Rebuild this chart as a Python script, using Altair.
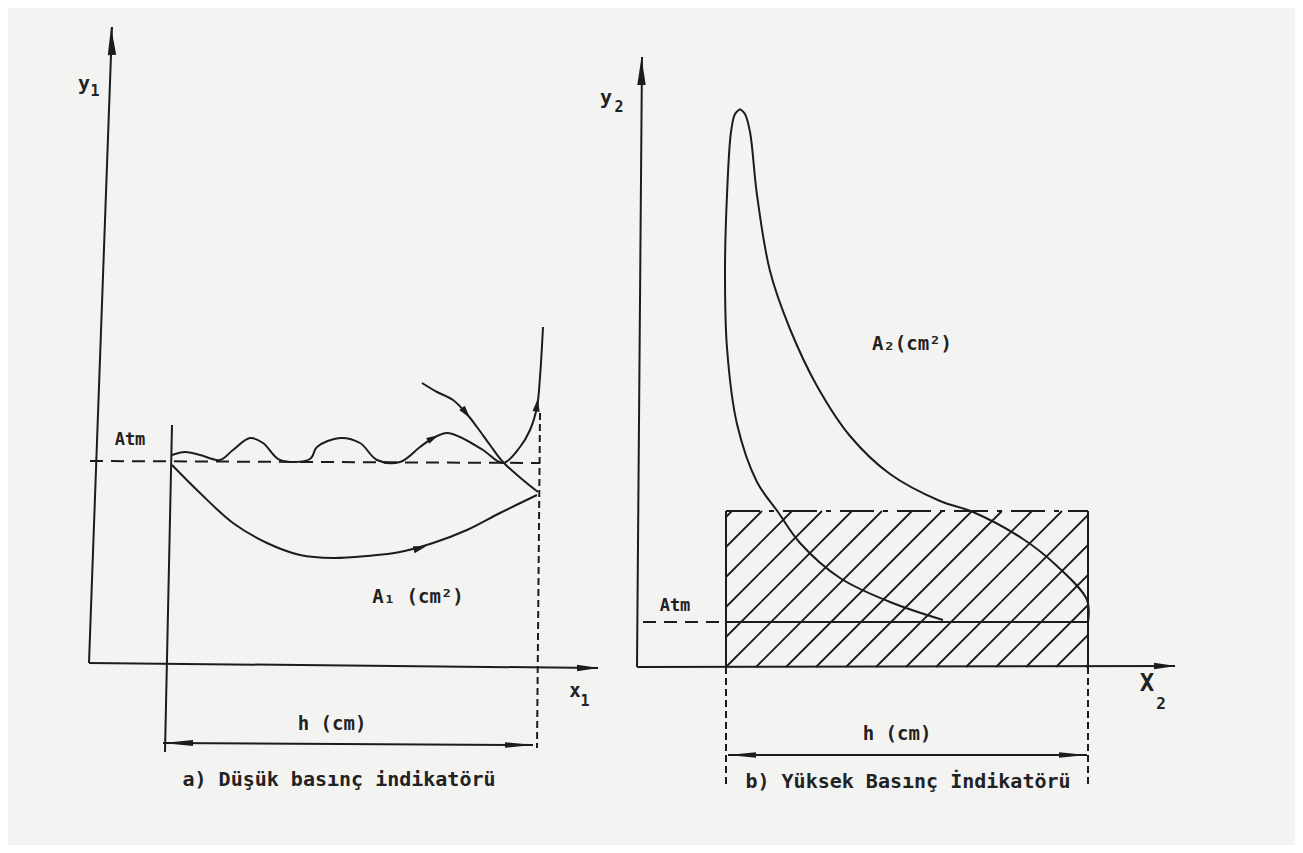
import altair as alt
import pandas as pd
import numpy as np

# ---------------- data (page pixel coordinates) ----------------
# Left panel (a) low pressure indicator
Y1_AXIS_X = [112, 89]
Y1_AXIS_Y = [27, 663]
X1_AXIS_X = [89, 598]
X1_AXIS_Y = [663, 668]
H1_LEFT_X = [172, 165]
H1_LEFT_Y = [425, 752]
H1_RIGHT_X = [540, 537]
H1_RIGHT_Y = [413, 748]
ATM1_X = [90, 540]
ATM1_Y = [461, 463]
H1_ARROW_X = [163, 533]
H1_ARROW_Y = [743, 745]

WAVE_X = [172, 185, 200, 220, 233, 250, 263, 280, 310, 317, 340, 360, 377, 400, 420, 433, 447, 460, 483, 503,
          520, 530, 537, 540, 543]
WAVE_Y = [455, 452, 455, 460, 450, 438, 443, 460, 459, 447, 438, 443, 460, 462, 447, 438, 433, 437, 450, 463,
          447, 430, 407, 377, 327]
EXH1_X = [422, 437, 453, 466, 477, 490, 503, 523, 538]
EXH1_Y = [383, 392, 400, 413, 427, 445, 462, 480, 492]
LOW1_X = [172, 200, 233, 267, 300, 333, 367, 400, 433, 467, 500, 537]
LOW1_Y = [465, 493, 523, 543, 555, 558, 556, 552, 543, 530, 513, 495]

# Right panel (b) high pressure indicator
Y2_AXIS_X = [642, 637]
Y2_AXIS_Y = [57, 667]
X2_AXIS_X = [637, 1175]
X2_AXIS_Y = [667, 666]
RECT_X = [726, 1088]
RECT_Y = [511, 667]
ATM2_Y = 622
ATM2_DASH_X = [643, 726]
H2_EXT_Y = [667, 785]
H2_ARROW_X = [728, 1087]
H2_ARROW_Y = [755, 755]

EXP2_X = [740, 745, 750, 757, 770, 790, 817, 850, 890, 940, 973, 1023, 1057, 1087, 1088]
EXP2_Y = [109, 114, 132, 195, 271, 329, 386, 436, 474, 501, 512, 539, 566, 600, 622]
COMP2_X = [740, 735, 731, 727, 725, 727, 737, 757, 778, 800, 840, 890, 943]
COMP2_Y = [109, 114, 132, 195, 271, 348, 424, 482, 512, 543, 578, 602, 620]

# Texts
TEXTS = [
    # text, x, y, size
    ("y", 84, 84, 20), ("1", 95, 91, 15),
    ("y", 606, 98, 20), ("2", 619, 107, 15),
    ("x", 575, 691, 19), ("1", 585, 701, 15),
    ("X", 1147, 684, 24), ("2", 1161, 704, 16),
    ("Atm", 130, 440, 17), ("Atm", 675, 606, 17),
    ("h (cm)", 332, 724, 19), ("h (cm)", 897, 734, 19),
    ("A\u2081 (cm\u00b2)", 418, 597, 19), ("A\u2082(cm\u00b2)", 912, 344, 19),
    ("a) Düşük basınç indikatörü", 339, 780, 20),
    ("b) Yüksek Basınç İndikatörü", 908, 782, 20),
]

# Arrow heads: x, y, angle, length, kind
ARROWS = [
    (111.5, 41, 358, 28, "axis"), (641.5, 71, 0, 28, "axis"),
    (588, 668, 90, 22, "axis"), (1165, 666, 90, 22, "axis"),
    (178, 743, 270, 30, "thin"), (519, 745, 90, 28, "thin"),
    (742, 755, 270, 28, "thin"), (1073, 755, 90, 28, "thin"),
    (420, 548, 75, 13, "curve"), (537, 405, 8, 13, "curve"),
    (466, 413, 142, 13, "curve"), (433, 438, 62, 12, "curve"),
]
PATHS = {
    "axis": "M0,-1L0.3,1L-0.3,1Z",
    "thin": "M0,-1L0.2,1L-0.2,1Z",
    "curve": "M0,-1L0.55,1L-0.55,1Z",
}
HATCH_STEP = 30
HATCH_ANCHOR = RECT_X[0] + RECT_Y[1]

INK = "#1c1c1c"
BG = "#f3f3f1"

# ---------------- build tables ----------------
def paths(items):
    rows = []
    for name, xs, ys in items:
        for i, (x, y) in enumerate(zip(xs, ys)):
            rows.append({"g": name, "o": i, "x": x, "y": y})
    return pd.DataFrame(rows)

solid = paths([
    ("y1", Y1_AXIS_X, Y1_AXIS_Y), ("x1", X1_AXIS_X, X1_AXIS_Y),
    ("h1l", H1_LEFT_X, H1_LEFT_Y), ("h1a", H1_ARROW_X, H1_ARROW_Y),
    ("wave", WAVE_X, WAVE_Y), ("exh", EXH1_X, EXH1_Y), ("low", LOW1_X, LOW1_Y),
    ("y2", Y2_AXIS_X, Y2_AXIS_Y), ("x2", X2_AXIS_X, X2_AXIS_Y),
    ("rl", [RECT_X[0]] * 2, RECT_Y), ("rr", [RECT_X[1]] * 2, RECT_Y),
    ("atm2", RECT_X, [ATM2_Y] * 2), ("h2a", H2_ARROW_X, H2_ARROW_Y),
    ("exp", EXP2_X, EXP2_Y), ("comp", COMP2_X, COMP2_Y),
])
dashed = paths([
    ("atm1", ATM1_X, ATM1_Y), ("atm2d", ATM2_DASH_X, [ATM2_Y] * 2),
])
dotted = paths([
    ("h1r", H1_RIGHT_X, H1_RIGHT_Y),
    ("h2l", [RECT_X[0]] * 2, H2_EXT_Y), ("h2r", [RECT_X[1]] * 2, H2_EXT_Y),
])
dashdot = paths([("top", RECT_X, [RECT_Y[0]] * 2)])

# hatch pattern clipped to the rectangle
x0, x1 = RECT_X
y0, y1 = RECT_Y
hrows = []
k = HATCH_ANCHOR
while k - HATCH_STEP >= x0 + y0:
    k -= HATCH_STEP
while k <= x1 + y1:
    xa = max(x0, k - y1)
    xb = min(x1, k - y0)
    if xb > xa:
        hrows.append({"x": xa, "y": k - xa, "x2": xb, "y2": k - xb})
    k += HATCH_STEP
hatch = pd.DataFrame(hrows)

arrows = pd.DataFrame([
    {"x": a[0], "y": a[1], "ang": a[2], "sz": a[3] ** 2, "shp": PATHS[a[4]]} for a in ARROWS
])
texts = pd.DataFrame([{"t": t[0], "x": t[1], "y": t[2], "fs": t[3]} for t in TEXTS])

# ---------------- chart ----------------
XS = alt.Scale(domain=[8, 1295], nice=False, zero=False)
YS = alt.Scale(domain=[8, 845], nice=False, zero=False, reverse=True)
X = alt.X("x:Q", scale=XS, axis=None)
Y = alt.Y("y:Q", scale=YS, axis=None)


def line_layer(df, dash=None, width=2):
    kw = dict(color=INK, strokeWidth=width, interpolate="linear", clip=False)
    if dash:
        kw["strokeDash"] = dash
    return alt.Chart(df).mark_line(**kw).encode(
        x=X, y=Y, detail="g:N", order="o:Q"
    )

solid_l = alt.Chart(solid).mark_line(color=INK, strokeWidth=2, interpolate="catmull-rom").encode(
    x=X, y=Y, detail="g:N", order="o:Q")
dashed_l = line_layer(dashed, dash=[13, 8])
dotted_l = line_layer(dotted, dash=[7, 4])
dashdot_l = line_layer(dashdot, dash=[34, 9, 5, 9])

hatch_l = alt.Chart(hatch).mark_rule(color=INK, strokeWidth=1.8).encode(
    x=X, y=Y, x2="x2:Q", y2="y2:Q")

arrow_l = alt.Chart(arrows).mark_point(filled=True, color=INK, opacity=1, strokeWidth=0).encode(
    x=X, y=Y,
    angle=alt.Angle("ang:Q", scale=None),
    size=alt.Size("sz:Q", scale=None),
    shape=alt.Shape("shp:N", scale=None),
)

text_l = alt.Chart(texts).mark_text(
    color="#222222", font="DejaVu Sans Mono", fontWeight="bold", align="center", baseline="middle"
).encode(x=X, y=Y, text="t:N", size=alt.Size("fs:Q", scale=None))

chart = alt.layer(hatch_l, solid_l, dashed_l, dotted_l, dashdot_l, arrow_l, text_l).properties(
    width=1287, height=837, background=BG, padding=0, autosize="none"
).configure_view(stroke=None)

chart.save("out.html", embed_options={"renderer": "svg", "actions": False})
